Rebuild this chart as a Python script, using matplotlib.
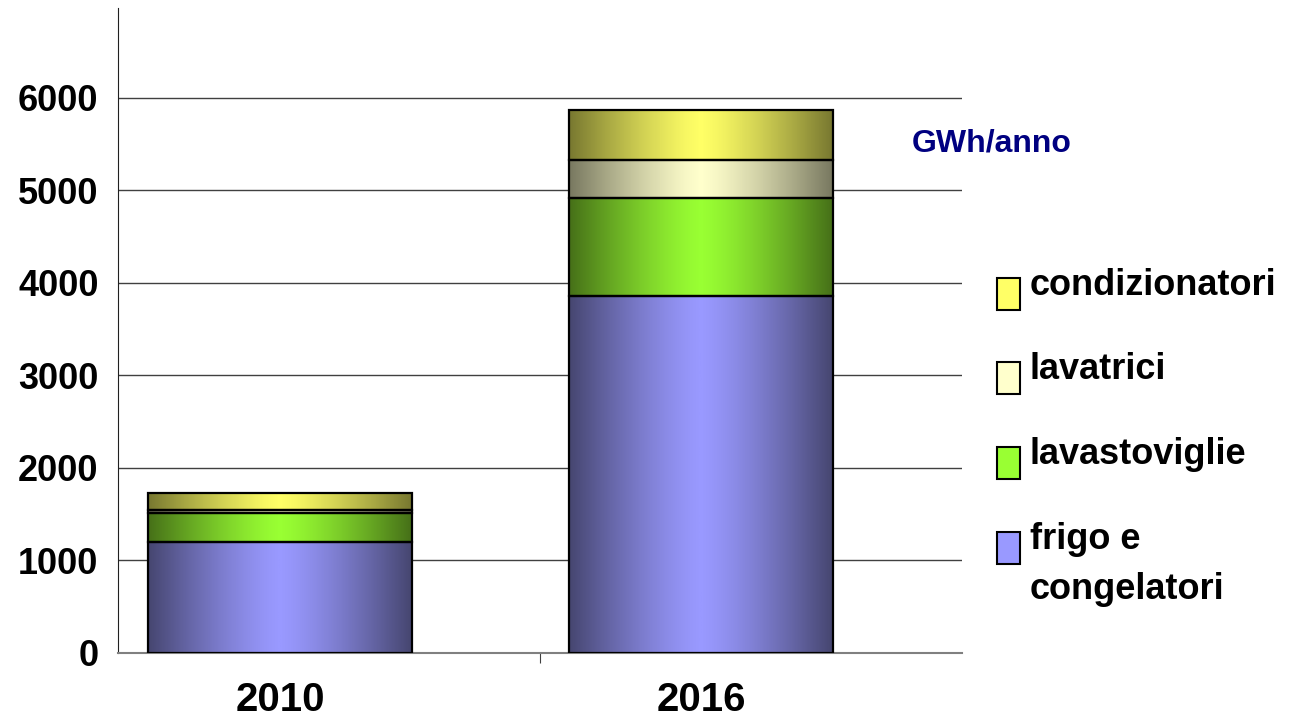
import numpy as np
import matplotlib.pyplot as plt
from matplotlib.colors import LinearSegmentedColormap
from matplotlib.patches import Rectangle

plt.rcParams['font.family'] = ['Liberation Sans', 'DejaVu Sans']
plt.rcParams['font.weight'] = 'bold'

years = ['2010', '2016']
series = ['frigo e\ncongelatori', 'lavastoviglie', 'lavatrici', 'condizionatori']
frigo = [1200, 3860]
lavastoviglie = [310, 1060]
lavatrici = [35, 410]
condizionatori = [185, 540]
values = [frigo, lavastoviglie, lavatrici, condizionatori]
# centre colour / edge colour of the gradient
centre_colors = ['#9999ff', '#99ff33', '#ffffcc', '#ffff66']
edge_colors = ['#464670', '#467018', '#787860', '#787830']

fig = plt.figure(figsize=(13.01, 7.22), dpi=100)
ax = fig.add_axes([118/1301, 69/722, 844/1301, 645/722])

x = np.arange(len(years))
width = 0.627
grad = np.abs(np.linspace(-1, 1, 256)) ** 1.3
grad = (1 - grad)[None, :]

bottom = np.zeros(len(years))
for name, vals, c1, c0 in zip(series, values, centre_colors, edge_colors):
    cmap = LinearSegmentedColormap.from_list('g', [c0, c1])
    bars = ax.bar(x, vals, width, bottom=bottom, color='none', edgecolor='black',
                  linewidth=1.6, zorder=3)
    for b in bars:
        im = ax.imshow(grad, cmap=cmap, aspect='auto', zorder=2,
                       extent=[b.get_x(), b.get_x() + b.get_width(),
                               b.get_y(), b.get_y() + b.get_height()])
        im.set_clip_path(b)
    bottom += np.array(vals)

ax.set_xlim(-0.385, 1.62)
ax.set_ylim(0, 6970)
ax.set_yticks(range(0, 7000, 1000))
ax.tick_params(axis='y', length=0, labelsize=26, pad=14)
ax.set_xticks([0.618])
ax.set_xticklabels([''])
ax.tick_params(axis='x', length=7, color='#404040', direction='out')
for i, yr in enumerate(years):
    ax.text(x[i], -630, yr, ha='center', va='baseline', fontsize=29)
ax.grid(axis='y', color='#404040', linewidth=1, zorder=0)
ax.set_axisbelow(True)
ax.spines['top'].set_visible(False)
ax.spines['right'].set_visible(False)
ax.spines['left'].set_color('#202020')
ax.spines['bottom'].set_color('#808080')
ax.spines['bottom'].set_linewidth(1.5)

fig.text(912/1301, 1 - 144/722, 'GWh/anno', color='#000080', fontsize=23, va='center')

# legend drawn by hand
leg_top = [278, 362, 447, 532]
for yy, name, c in zip(leg_top, series[::-1], centre_colors[::-1]):
    fig.patches.append(Rectangle((997/1301, 1 - (yy + 32)/722), 23/1301, 32/722,
                                 transform=fig.transFigure, facecolor=c,
                                 edgecolor='black', linewidth=1.5))
    fig.text(1030/1301, 1 - (yy - 10)/722, name, fontsize=26, va='top',
             linespacing=1.55)

plt.savefig('out.png', dpi=100)
